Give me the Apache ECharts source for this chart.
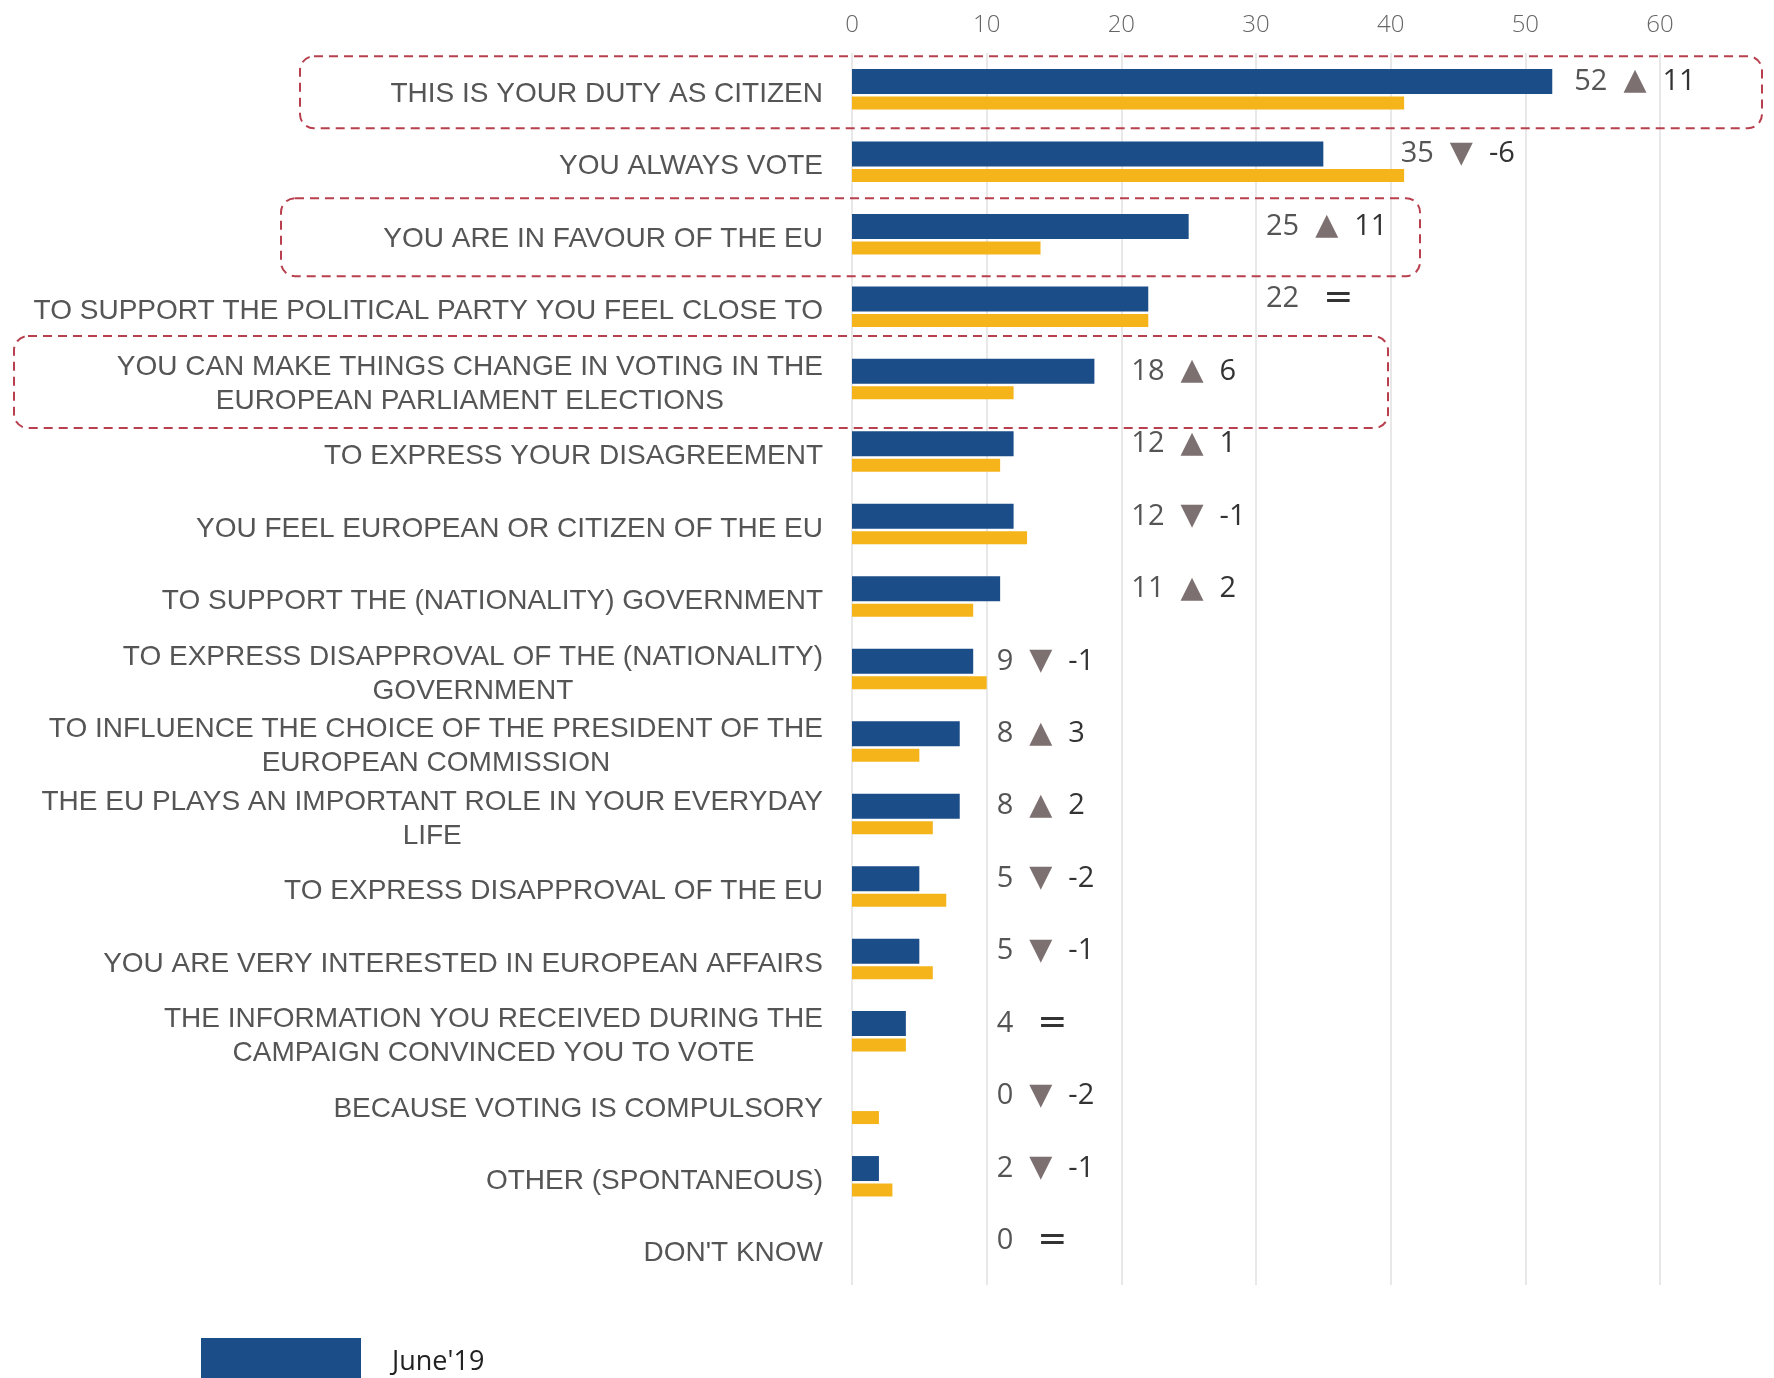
<!DOCTYPE html>
<html>
<head>
<meta charset="utf-8">
<script src="https://cdn.jsdelivr.net/npm/echarts/dist/echarts.min.js"></script>
<style>
    html, body { margin: 0; padding: 0; background: #fff; }
    #chart { width: 1774px; height: 1378px; }
</style>
</head>
<body>
<div id="chart"></div>
<script>
// reasons for voting (%), June'19 against the previous wave
var reasons = [
    'THIS IS YOUR DUTY AS CITIZEN',
    'YOU ALWAYS VOTE',
    'YOU ARE IN FAVOUR OF THE EU',
    'TO SUPPORT THE POLITICAL PARTY YOU FEEL CLOSE TO',
    'YOU CAN MAKE THINGS CHANGE IN VOTING IN THE\nEUROPEAN PARLIAMENT ELECTIONS',
    'TO EXPRESS YOUR DISAGREEMENT',
    'YOU FEEL EUROPEAN OR CITIZEN OF THE EU',
    'TO SUPPORT THE (NATIONALITY) GOVERNMENT',
    'TO EXPRESS DISAPPROVAL OF THE (NATIONALITY)\nGOVERNMENT',
    'TO INFLUENCE THE CHOICE OF THE PRESIDENT OF THE\nEUROPEAN COMMISSION',
    'THE EU PLAYS AN IMPORTANT ROLE IN YOUR EVERYDAY\nLIFE',
    'TO EXPRESS DISAPPROVAL OF THE EU',
    'YOU ARE VERY INTERESTED IN EUROPEAN AFFAIRS',
    'THE INFORMATION YOU RECEIVED DURING THE\nCAMPAIGN CONVINCED YOU TO VOTE',
    'BECAUSE VOTING IS COMPULSORY',
    'OTHER (SPONTANEOUS)',
    "DON'T KNOW"
];
var june19 = [52, 35, 25, 22, 18, 12, 12, 11, 9, 8, 8, 5, 5, 4, 0, 2, 0];
var may14 = [41, 41, 14, 22, 12, 11, 13, 9, 10, 5, 6, 7, 6, 4, 2, 3, 0];
var change = [11, -6, 11, 0, 6, 1, -1, 2, -1, 3, 2, -2, -1, 0, -2, -1, 0];
var ticks = [0, 10, 20, 30, 40, 50, 60];
var seriesNames = ["June'19", "May'14"];
var highlighted = [0, 2, 4];

var BLUE = '#1b4d89';
var YELLOW = '#f4b41a';

var dom = document.getElementById('chart');
var myChart = echarts.init(dom);

// value labels sit just past the next gridline, except when that is past 50
function labelX(i) {
    var v = june19[i];
    var slot = Math.max(10, Math.ceil(v / 10) * 10);
    if (slot > 50) {
        return myChart.convertToPixel({xAxisIndex: 0}, v) + 22;
    }
    return myChart.convertToPixel({xAxisIndex: 0}, slot) + 10;
}

myChart.setOption({
    animation: false,
    grid: {
        left: 852,
        right: 114,
        top: 53,
        height: 1232
    },
    legend: {
        data: [seriesNames[0]],
        left: 196,
        top: 1333,
        icon: 'rect',
        itemWidth: 160,
        itemHeight: 48,
        selectedMode: false,
        textStyle: {
            fontFamily: 'Open Sans',
            fontSize: 27,
            color: '#222',
            padding: [0, 0, 0, 26]
        }
    },
    xAxis: {
        type: 'value',
        position: 'top',
        min: ticks[0],
        max: ticks[ticks.length - 1],
        interval: 10,
        axisLine: {show: false},
        axisTick: {show: false},
        axisLabel: {
            margin: 16,
            fontFamily: 'Open Sans',
            fontWeight: 300,
            fontSize: 24,
            color: '#666'
        },
        splitLine: {
            lineStyle: {color: '#e0e0e0', width: 1.5}
        }
    },
    yAxis: {
        type: 'category',
        inverse: true,
        data: reasons,
        axisLine: {show: false},
        axisTick: {show: false},
        axisLabel: {
            margin: 29,
            padding: [10, 0, 0, 0],
            fontFamily: 'Liberation Sans',
            fontSize: 28,
            color: '#555',
            lineHeight: 34,
            formatter: function (val) {
                if (val.indexOf('\n') < 0) return val;
                return val.split('\n').map(function (s) { return '{c|' + s + '}'; }).join('\n');
            },
            rich: {
                c: {
                    align: 'center',
                    fontFamily: 'Liberation Sans',
                    fontSize: 28,
                    color: '#555',
                    lineHeight: 34
                }
            }
        }
    },
    series: [
        {
            name: seriesNames[0],
            type: 'bar',
            data: june19,
            barWidth: 25,
            barGap: '10%',
            itemStyle: {color: BLUE},
            label: {
                show: true,
                position: 'right',
                formatter: function (p) {
                    var d = change[p.dataIndex];
                    var s = '{v|' + p.value + '}';
                    if (d > 0) s += '{up|▲}{d|' + d + '}';
                    else if (d < 0) s += '{dn|▼}{d|' + d + '}';
                    else s += '{eq|=}';
                    return s;
                },
                rich: {
                    v: {fontFamily: 'Open Sans', fontSize: 29, color: '#555', padding: [0, 16, 0, 0]},
                    up: {fontFamily: 'DejaVu Sans', fontSize: 30, color: '#7d7070', padding: [0, 16, 0, 0]},
                    dn: {fontFamily: 'DejaVu Sans', fontSize: 30, color: '#7d7070', padding: [0, 16, 0, 0]},
                    eq: {fontFamily: 'DejaVu Sans', fontSize: 36, color: '#333', padding: [0, 0, 0, 8]},
                    d: {fontFamily: 'Open Sans', fontSize: 29, color: '#333'}
                }
            },
            labelLayout: function (p) {
                return {
                    x: labelX(p.dataIndex),
                    y: p.rect.y + p.rect.height / 2,
                    align: 'left',
                    verticalAlign: 'middle'
                };
            }
        },
        {
            name: seriesNames[1],
            type: 'bar',
            data: may14,
            barWidth: 13,
            barGap: '10%',
            itemStyle: {color: YELLOW}
        }
    ]
});

// dashed frames around the highlighted reasons
var frames = [
    {left: 300, right: 1762, h: 72},
    {left: 281, right: 1420, h: 78},
    {left: 14, right: 1388, h: 92}
];
var shapes = highlighted.map(function (row, k) {
    var f = frames[k];
    var cy = myChart.convertToPixel({yAxisIndex: 0}, reasons[row]) + 3;
    return {
        type: 'rect',
        silent: true,
        shape: {x: f.left, y: cy - f.h / 2, width: f.right - f.left, height: f.h, r: 14},
        style: {fill: 'none', stroke: '#b8404e', lineWidth: 2, lineDash: [9, 6]}
    };
});
myChart.setOption({graphic: shapes});
</script>
</body>
</html>
